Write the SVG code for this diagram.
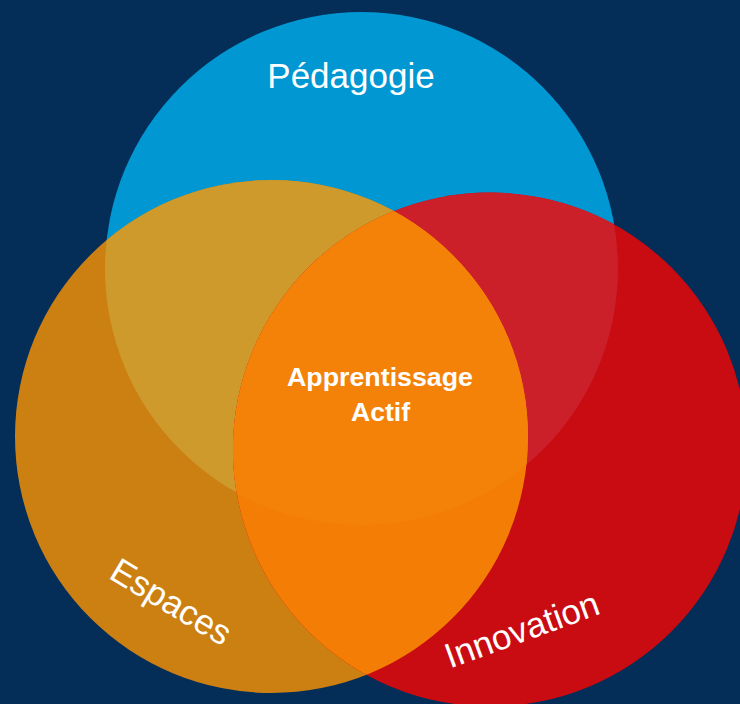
<svg xmlns="http://www.w3.org/2000/svg" width="740" height="704" viewBox="0 0 740 704">
  <style>
    .lbl { font-family: "Liberation Sans", Arial, sans-serif; fill: #ffffff; text-anchor: middle; }
    .big { font-size: 35px; }
    .ctr { font-size: 26px; font-weight: bold; }
  </style>
  <defs>
    <circle id="cB" cx="361.5" cy="268.5" r="256.5"/>
    <circle id="cO" cx="271.5" cy="436.5" r="256.5"/>
    <circle id="cR" cx="490" cy="449.5" r="257"/>
    <clipPath id="clipB"><use href="#cB"/></clipPath>
    <clipPath id="clipO"><use href="#cO"/></clipPath>
  </defs>
  <rect width="740" height="704" fill="#042d58"/>

  <g id="pedagogie">
    <use href="#cB" fill="#0197d2"/>
    <text class="lbl big" x="351" y="88">Pédagogie</text>
  </g>

  <g id="espaces">
    <use href="#cO" fill="#cc8012"/>
    <use href="#cO" fill="#cd9a2b" clip-path="url(#clipB)"/>
    <text class="lbl big" transform="translate(165,612) rotate(31)">Espaces</text>
  </g>

  <g id="innovation">
    <use href="#cR" fill="#c90b12"/>
    <use href="#cR" fill="#cb1f2a" clip-path="url(#clipB)"/>
    <text class="lbl big" transform="translate(526,641) rotate(-20)">Innovation</text>
  </g>

  <g id="apprentissage-actif">
    <use href="#cR" fill="#f47e05" clip-path="url(#clipO)"/>
    <g clip-path="url(#clipB)">
      <use href="#cR" fill="#f48209" clip-path="url(#clipO)"/>
    </g>
    <text class="lbl ctr" x="380" y="386" textLength="186" lengthAdjust="spacingAndGlyphs">Apprentissage</text>
    <text class="lbl ctr" x="380.5" y="421" textLength="59" lengthAdjust="spacingAndGlyphs">Actif</text>
  </g>
</svg>
